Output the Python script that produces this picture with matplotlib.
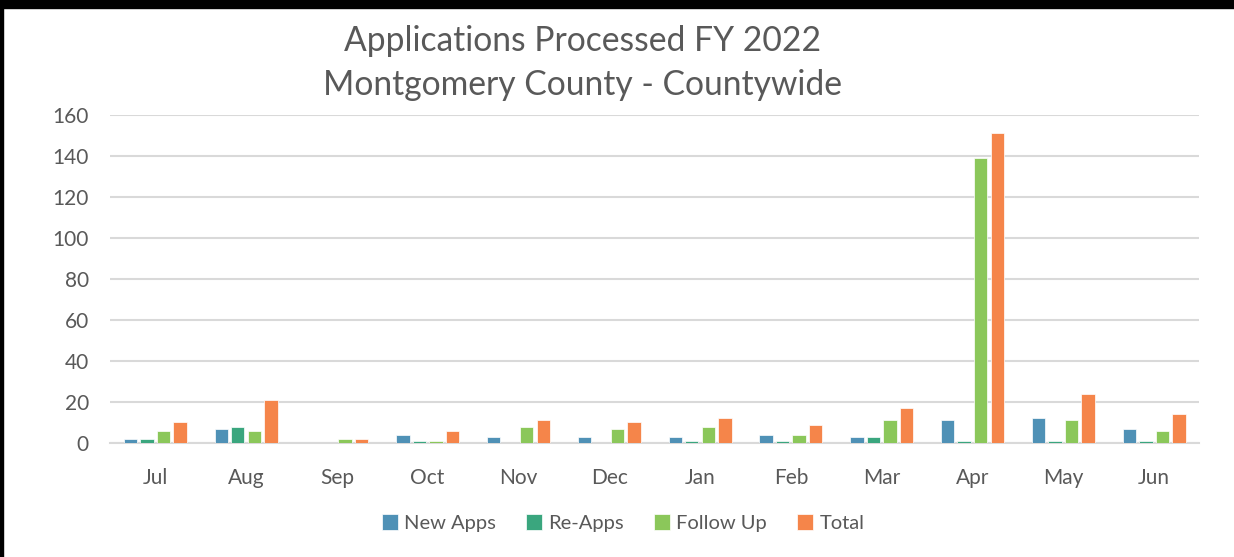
import matplotlib.pyplot as plt
import numpy as np
from matplotlib.patches import Rectangle

plt.rcParams['font.family'] = ['Lato', 'DejaVu Sans']

months = ['Jul', 'Aug', 'Sep', 'Oct', 'Nov', 'Dec', 'Jan', 'Feb', 'Mar', 'Apr', 'May', 'Jun']
new_apps = [2, 7, 0, 4, 3, 3, 3, 4, 3, 11, 12, 7]
re_apps = [2, 8, 0, 1, 0, 0, 1, 1, 3, 1, 1, 1]
follow_up = [6, 6, 2, 1, 8, 7, 8, 4, 11, 139, 11, 6]
total = [10, 21, 2, 6, 11, 10, 12, 9, 17, 151, 24, 14]

series = [('New Apps', new_apps, '#4F91B6'),
          ('Re-Apps', re_apps, '#3AA67E'),
          ('Follow Up', follow_up, '#8BC75A'),
          ('Total', total, '#F5854A')]

fig = plt.figure(figsize=(12.34, 5.57), dpi=100)
ax = fig.add_axes([0.089, 0.2047, 0.883, 0.5888])

x = np.arange(len(months))
step = 0.182
width = 0.148
for i, (name, vals, col) in enumerate(series):
    ax.bar(x + (i - 1.5) * step, vals, width, color=col, label=name,
           edgecolor='white', linewidth=0.5, zorder=3)

ax.set_xlim(-0.5, len(months) - 0.5)
ax.set_ylim(0, 160)
ax.set_yticks(range(0, 161, 20))
ax.set_xticks(x)
ax.set_xticklabels(months)
ax.grid(axis='y', color='#D9D9D9', linewidth=1.5, zorder=0)
for s in ['top', 'right', 'left']:
    ax.spines[s].set_visible(False)
ax.spines['bottom'].set_color('#D9D9D9')
ax.spines['bottom'].set_linewidth(1.5)
ax.tick_params(length=0, labelsize=15, colors='#595959')
ax.tick_params(axis='x', pad=18)
ax.tick_params(axis='y', pad=15)

fig.text(0.472, 0.927, 'Applications Processed FY 2022', ha='center', va='center',
         fontsize=24.2, color='#595959')
fig.text(0.472, 0.848, 'Montgomery County - Countywide', ha='center', va='center',
         fontsize=24.2, color='#595959')

leg = fig.legend(loc='center', bbox_to_anchor=(0.505, 0.061), ncol=4, frameon=False,
                 fontsize=14.5, handlelength=0.8, handleheight=0.8, handletextpad=0.3,
                 columnspacing=1.5, labelcolor='#595959')

# outer black frame
fig.patches.append(Rectangle((0, 0), 0.0024, 1, transform=fig.transFigure,
                             color='black', zorder=10))
fig.patches.append(Rectangle((0, 1 - 8 / 557), 1, 5 / 557, transform=fig.transFigure,
                             color='black', zorder=10))
fig.patches.append(Rectangle((0, 1 - 2 / 557), 1, 2 / 557, transform=fig.transFigure,
                             color='black', zorder=10))

fig.savefig('out.png', dpi=100)
